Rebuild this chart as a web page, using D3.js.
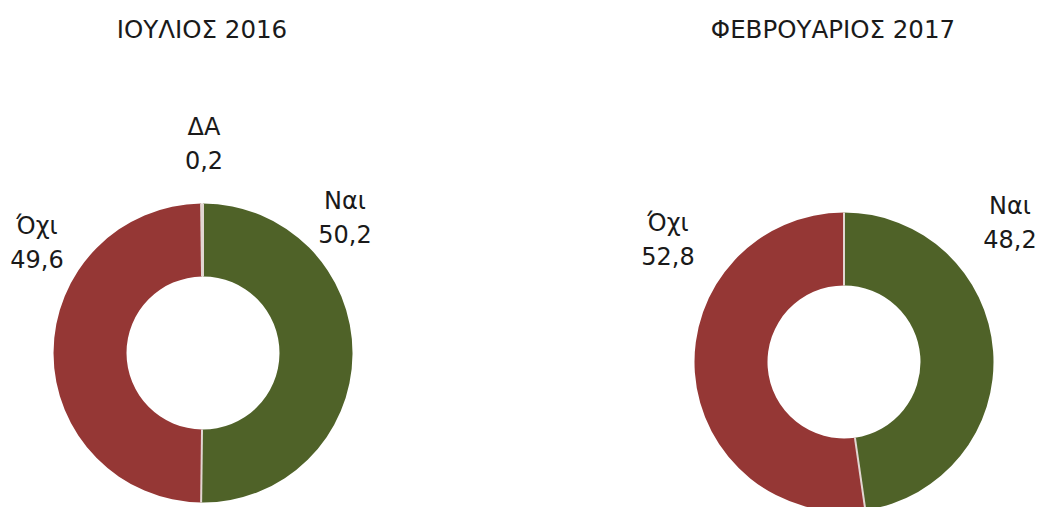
<!DOCTYPE html>
<html><head><meta charset="utf-8">
<script src="https://cdn.jsdelivr.net/npm/d3@7"></script>
<style>html,body{margin:0;padding:0;background:#fff;}svg{display:block;}</style>
</head><body>
<svg id="c" width="1039" height="507"></svg>
<script>
// Data
const titles = ["ΙΟΥΛΙΟΣ 2016", "ΦΕΒΡΟΥΑΡΙΟΣ 2017"];
const categories = ["Ναι", "Όχι", "ΔΑ"];
const julyValues = [50.2, 49.6, 0.2];
const febValues = [48.2, 52.8, 0];
const valueLabels2016 = ["50,2", "49,6", "0,2"];
const valueLabels2017 = ["48,2", "52,8", ""];

// Layout (not data)
const colors = {"Ναι": "#4f6228", "Όχι": "#953735", "ΔΑ": "#faf6f6"};
const charts = [
  {title: titles[0], values: julyValues, labels: valueLabels2016, cx: 203, cy: 353, tx: 202,
   labelPos: {"Ναι": [345, 209], "Όχι": [37, 234], "ΔΑ": [204, 135]}},
  {title: titles[1], values: febValues, labels: valueLabels2017, cx: 844, cy: 362, tx: 833,
   labelPos: {"Ναι": [1010, 214], "Όχι": [668, 231]}}
];
const outerR = 149.5, innerR = 76.5, lineGap = 34;

const svg = d3.select("#c");
const pie = d3.pie().sort(null).value(d => d.v);
const arc = d3.arc().innerRadius(innerR).outerRadius(outerR);

charts.forEach(ch => {
  const data = categories.map((c, i) => ({c, v: ch.values[i], l: ch.labels[i]}));
  const arcs = pie(data).filter(d => d.data.v > 0);
  const g = svg.append("g").attr("transform", `translate(${ch.cx},${ch.cy})`);
  g.selectAll("path").data(arcs).join("path")
    .attr("d", arc)
    .attr("fill", d => colors[d.data.c]);
  // slice separators
  g.selectAll("line.sep").data(arcs).join("line")
    .attr("class", "sep")
    .attr("x1", d => innerR * Math.sin(d.startAngle))
    .attr("y1", d => -innerR * Math.cos(d.startAngle))
    .attr("x2", d => outerR * Math.sin(d.startAngle))
    .attr("y2", d => -outerR * Math.cos(d.startAngle))
    .attr("stroke", "#e2d6d2")
    .attr("stroke-width", 2);

  svg.append("text").attr("x", ch.tx).attr("y", 38)
    .attr("text-anchor", "middle")
    .attr("font-family", "DejaVu Sans, sans-serif")
    .attr("font-size", 24.5).attr("fill", "#1a1a1a")
    .text(ch.title);

  data.filter(d => d.v > 0).forEach(d => {
    const p = ch.labelPos[d.c];
    if (!p) return;
    const t = svg.append("text").attr("text-anchor", "middle")
      .attr("font-family", "DejaVu Sans, sans-serif")
      .attr("font-size", 24).attr("fill", "#1a1a1a");
    t.append("tspan").attr("x", p[0]).attr("y", p[1]).text(d.c);
    t.append("tspan").attr("x", p[0]).attr("y", p[1] + lineGap).text(d.l);
  });
});
</script>
</body></html>
